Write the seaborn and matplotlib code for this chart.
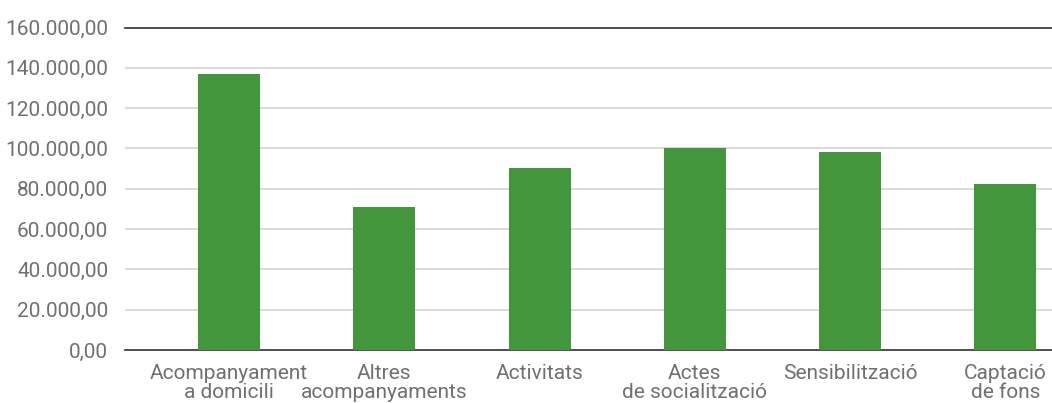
import pandas as pd
import numpy as np
import matplotlib
matplotlib.use("Agg")
import matplotlib.pyplot as plt
import seaborn as sns
from matplotlib.ticker import FuncFormatter

categories = ["Acompanyament\na domicili", "Altres\nacompanyaments", "Activitats",
              "Actes\nde socialització", "Sensibilització", "Captació\nde fons"]
values = [136700, 71100, 90100, 100300, 98300, 82500]
yticks = [0, 20000, 40000, 60000, 80000, 100000, 120000, 140000, 160000]

data = pd.DataFrame({"cat": categories, "val": values})

sns.set_style("white")
plt.rcParams["font.family"] = ["Roboto", "DejaVu Sans"]

fig = plt.figure(figsize=(10.52, 4.03), dpi=100)
ax = fig.add_axes([125 / 1052, 1 - 350 / 403, 1 - 125 / 1052, 322.5 / 403])

sns.barplot(x="cat", y="val", data=data, color="#43963b", width=0.4,
            saturation=1, linewidth=0, ax=ax, zorder=3)

def fmt(v, pos):
    s = f"{v:,.2f}"
    return s.replace(",", "X").replace(".", ",").replace("X", ".")

ax.set_ylim(0, 160000)
ax.set_yticks(yticks)
ax.yaxis.set_major_formatter(FuncFormatter(fmt))
ax.set_xlim(-0.67, 5.30)
ax.grid(axis="y", color="#d9d9d9", linewidth=1.4, zorder=0)
ax.set_xlabel("")
ax.set_ylabel("")

for s in ["left", "right"]:
    ax.spines[s].set_visible(False)
ax.spines["top"].set_color("#333333")
ax.spines["bottom"].set_color("#333333")
ax.spines["top"].set_linewidth(1.2)
ax.spines["bottom"].set_linewidth(1.2)

ax.tick_params(axis="y", length=0, pad=12, labelsize=15, labelcolor="#707070")
ax.tick_params(axis="x", length=0, pad=10, labelsize=15, labelcolor="#707070")
for lbl in ax.get_xticklabels():
    lbl.set_linespacing(1.0)

fig.savefig("out.png", dpi=100)
